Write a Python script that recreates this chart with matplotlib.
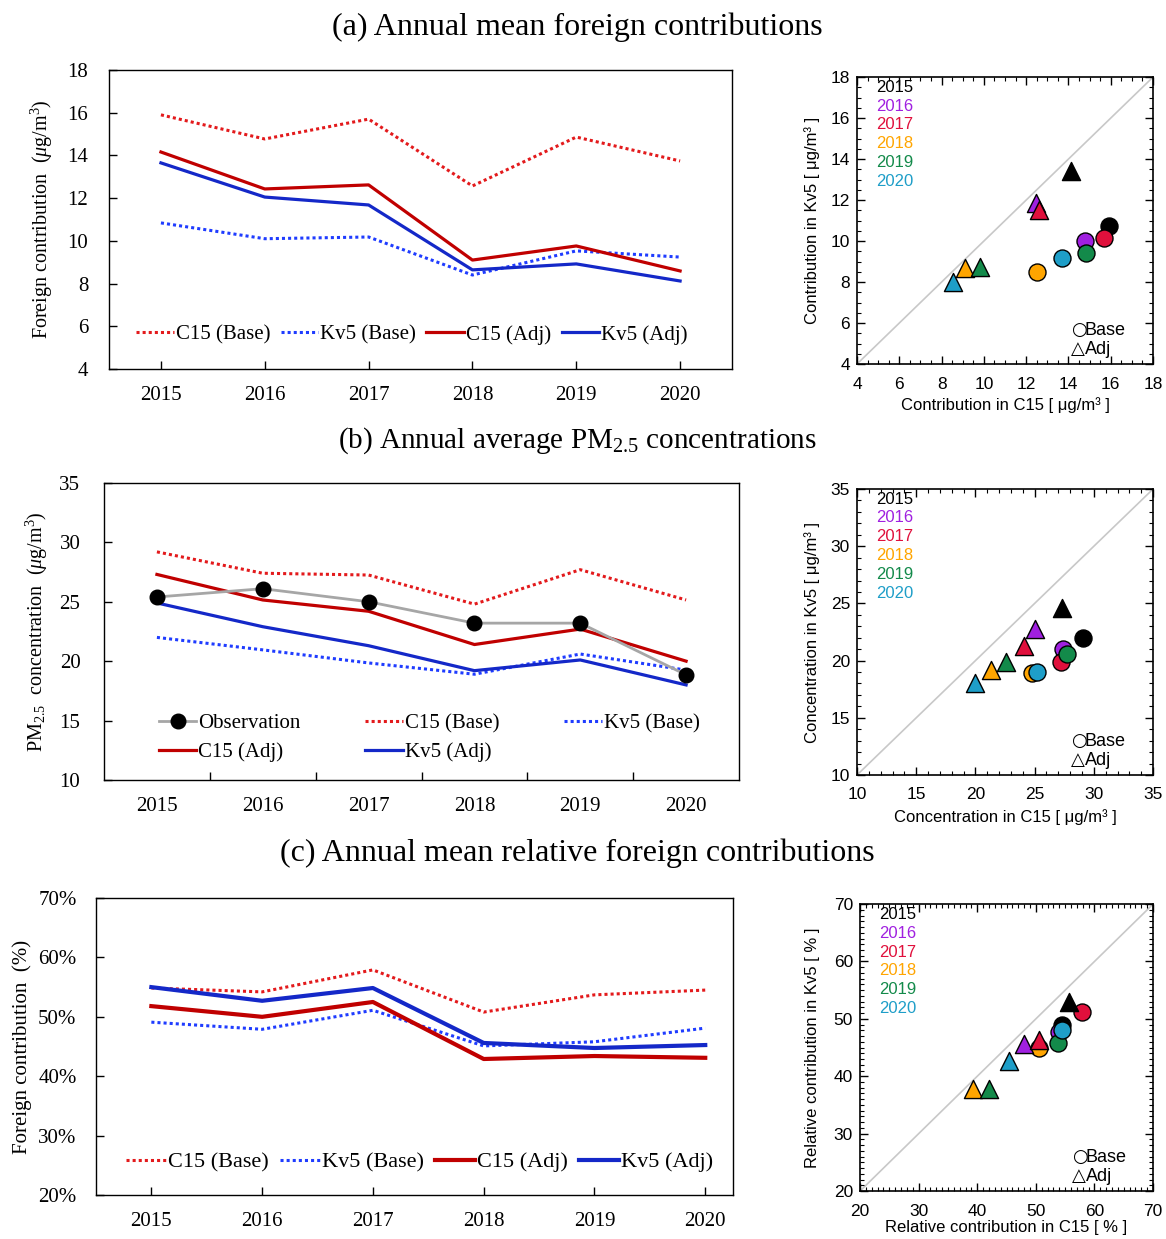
import matplotlib

matplotlib.use("Agg")
import matplotlib.pyplot as plt
from matplotlib.ticker import AutoMinorLocator, FuncFormatter, MultipleLocator

plt.rcParams["font.family"] = ["Liberation Serif", "DejaVu Serif"]
plt.rcParams["mathtext.fontset"] = "custom"
plt.rcParams["mathtext.rm"] = "Liberation Serif"
plt.rcParams["mathtext.it"] = "Liberation Serif:italic"
plt.rcParams["mathtext.bf"] = "Liberation Serif:bold"

SANS = ["Liberation Sans", "DejaVu Sans"]

years = [2015, 2016, 2017, 2018, 2019, 2020]

# (a) annual mean foreign contributions, ug/m3
a_c15_base = [15.9, 14.77, 15.7, 12.57, 14.86, 13.74]
a_kv5_base = [10.84, 10.1, 10.18, 8.4, 9.53, 9.24]
a_c15_adj = [14.16, 12.43, 12.62, 9.1, 9.76, 8.59]
a_kv5_adj = [13.65, 12.05, 11.68, 8.64, 8.92, 8.12]

# (b) annual average PM2.5, ug/m3
b_obs = [25.4, 26.1, 25.0, 23.2, 23.2, 18.85]
b_c15_base = [29.2, 27.4, 27.25, 24.8, 27.7, 25.15]
b_kv5_base = [22.0, 20.95, 19.85, 18.9, 20.6, 19.25]
b_c15_adj = [27.3, 25.15, 24.2, 21.4, 22.7, 20.0]
b_kv5_adj = [24.9, 22.9, 21.3, 19.2, 20.1, 18.0]

# (c) annual mean relative foreign contributions, %
c_c15_base = [54.85, 54.2, 57.9, 50.8, 53.7, 54.5]
c_kv5_base = [49.1, 47.9, 51.1, 45.1, 45.8, 48.1]
c_c15_adj = [51.8, 50.0, 52.5, 42.9, 43.4, 43.1]
c_kv5_adj = [55.0, 52.7, 54.85, 45.6, 44.75, 45.25]

# scatter panels: C15 (x) vs Kv5 (y)
sa_base_c15 = [15.9, 14.8, 15.7, 12.5, 14.85, 13.7]
sa_base_kv5 = [10.75, 10.0, 10.15, 8.5, 9.4, 9.15]
sa_adj_c15 = [14.1, 12.45, 12.6, 9.1, 9.8, 8.55]
sa_adj_kv5 = [13.4, 11.85, 11.5, 8.7, 8.75, 8.0]

sb_base_c15 = [29.1, 27.4, 27.2, 24.8, 27.7, 25.2]
sb_base_kv5 = [22.0, 21.0, 19.9, 18.9, 20.6, 19.0]
sb_adj_c15 = [27.3, 25.0, 24.1, 21.3, 22.6, 20.0]
sb_adj_kv5 = [24.6, 22.8, 21.3, 19.2, 19.9, 18.0]

sc_base_c15 = [54.5, 54.0, 57.8, 50.6, 53.7, 54.4]
sc_base_kv5 = [49.0, 47.8, 51.2, 45.0, 45.8, 48.0]
sc_adj_c15 = [55.6, 47.9, 50.6, 39.3, 42.0, 45.4]
sc_adj_kv5 = [53.0, 45.7, 46.3, 37.7, 37.7, 42.7]

year_colors = ["#000000", "#a020e0", "#e0103c", "#ffa500", "#138a4a", "#1e9ec8"]

RED_DOT = "#e31a1c"
BLUE_DOT = "#1f3cff"
RED = "#c00000"
BLUE = "#1428c8"
DOTS = (0, (1, 1))


def style_line_axes(ax, ylim, ystep, xlim, ypad, mid_ticks=False):
    ax.set_xlim(*xlim)
    ax.set_ylim(*ylim)
    ax.yaxis.set_major_locator(MultipleLocator(ystep))
    ax.tick_params(axis="y", direction="in", length=6, width=1, labelsize=15, pad=ypad)
    ax.tick_params(right=False, top=False)
    if mid_ticks:
        ax.set_xticks([y + 0.5 for y in years[:-1]], [])
        ax.set_xticks(years, [str(y) for y in years], minor=True)
        ax.tick_params(axis="x", which="major", direction="in", length=6, width=1)
        ax.tick_params(axis="x", which="minor", length=0, labelsize=15, pad=12)
    else:
        ax.set_xticks(years, [str(y) for y in years])
        ax.tick_params(axis="x", direction="in", length=6, width=1, labelsize=15, pad=12)
    for sp in ax.spines.values():
        sp.set_linewidth(1.0)


def draw_scatter(ax, bx, by, tx, ty, lim, major, n_minor, xlabel, ylabel, ylab_x, xlab_y):
    ax.plot(lim, lim, color="#c8c8c8", lw=1.2, zorder=1)
    for i in range(len(years)):
        ax.scatter(bx[i], by[i], s=150, marker="o", color=year_colors[i],
                   edgecolor="black", linewidth=1.0, zorder=3)
    for i in range(len(years)):
        ax.scatter(tx[i], ty[i], s=170, marker="^", color=year_colors[i],
                   edgecolor="black", linewidth=1.0, zorder=4)
    ax.set_xlim(*lim)
    ax.set_ylim(*lim)
    ax.xaxis.set_major_locator(MultipleLocator(major))
    ax.yaxis.set_major_locator(MultipleLocator(major))
    ax.xaxis.set_minor_locator(AutoMinorLocator(n_minor))
    ax.yaxis.set_minor_locator(AutoMinorLocator(n_minor))
    ax.tick_params(which="both", direction="in", top=True, right=True)
    ax.tick_params(which="major", length=6, width=1, labelsize=12.5)
    ax.tick_params(axis="x", which="major", pad=9)
    ax.tick_params(axis="y", which="major", pad=5)
    ax.tick_params(which="minor", length=3, width=0.8)
    for lab in ax.get_xticklabels() + ax.get_yticklabels():
        lab.set_family(SANS)
    for sp in ax.spines.values():
        sp.set_linewidth(1.2)
    ax.set_xlabel(xlabel, family=SANS, fontsize=12)
    ax.set_ylabel(ylabel, family=SANS, fontsize=12)
    ax.yaxis.set_label_coords(ylab_x, 0.5)
    ax.xaxis.set_label_coords(0.5, xlab_y)
    for i, yr in enumerate(years):
        ax.text(0.065, 0.965 - i * 0.066, str(yr), transform=ax.transAxes,
                color=year_colors[i], family=SANS, fontsize=12, ha="left", va="center")
    ax.text(0.722, 0.118, "○", transform=ax.transAxes, family=["DejaVu Sans"],
            fontsize=13, ha="left", va="center")
    ax.text(0.77, 0.118, "Base", transform=ax.transAxes, family=SANS,
            fontsize=13, ha="left", va="center")
    ax.text(0.722, 0.052, "△", transform=ax.transAxes, family=["DejaVu Sans"],
            fontsize=13, ha="left", va="center")
    ax.text(0.77, 0.052, "Adj", transform=ax.transAxes, family=SANS,
            fontsize=13, ha="left", va="center")


fig = plt.figure(figsize=(11.66, 12.39), dpi=100)

# ---------- (a) ----------
ax_a = fig.add_axes([0.0935, 0.7022, 0.5343, 0.2413])
ax_a.plot(years, a_c15_base, color=RED_DOT, ls=DOTS, lw=2.2, label="C15 (Base)")
ax_a.plot(years, a_kv5_base, color=BLUE_DOT, ls=DOTS, lw=2.2, label="Kv5 (Base)")
ax_a.plot(years, a_c15_adj, color=RED, lw=2.3, label="C15 (Adj)")
ax_a.plot(years, a_kv5_adj, color=BLUE, lw=2.3, label="Kv5 (Adj)")
style_line_axes(ax_a, (4, 18), 2, (2014.5, 2020.5), ypad=15)
ax_a.set_ylabel("Foreign contribution  ($\\mu$g/m$^3$)", fontsize=14.5)
ax_a.yaxis.set_label_coords(-0.087, 0.5)
ax_a.legend(loc="center", bbox_to_anchor=(0.486, 0.114), ncol=4, frameon=False,
            fontsize=15, handlelength=1.8, handletextpad=0.1, columnspacing=0.5)

sa = fig.add_axes([0.735, 0.7062, 0.2539, 0.2316])
draw_scatter(sa, sa_base_c15, sa_base_kv5, sa_adj_c15, sa_adj_kv5, (4, 18), 2, 4,
             "Contribution in C15 [ μg/m³ ]", "Contribution in Kv5 [ μg/m³ ]",
             -0.125, -0.115)

# ---------- (b) ----------
ax_b = fig.add_axes([0.0892, 0.3705, 0.5446, 0.2397])
h_obs, = ax_b.plot(years, b_obs, color="#a6a6a6", lw=2.0, marker="o", ms=10.5,
                   mfc="black", mec="black", label="Observation", zorder=5)
h_cb, = ax_b.plot(years, b_c15_base, color=RED_DOT, ls=DOTS, lw=2.2, label="C15 (Base)")
h_kb, = ax_b.plot(years, b_kv5_base, color=BLUE_DOT, ls=DOTS, lw=2.2, label="Kv5 (Base)")
h_ca, = ax_b.plot(years, b_c15_adj, color=RED, lw=2.3, label="C15 (Adj)")
h_ka, = ax_b.plot(years, b_kv5_adj, color=BLUE, lw=2.3, label="Kv5 (Adj)")
style_line_axes(ax_b, (10, 35), 5, (2014.5, 2020.5), ypad=17, mid_ticks=True)
ax_b.set_ylabel("PM$_{\\mathrm{2.5}}$  concentration  ($\\mu$g/m$^3$)", fontsize=14.5)
ax_b.yaxis.set_label_coords(-0.085, 0.5)
ax_b.legend([h_obs, h_ca, h_cb, h_ka, h_kb],
            ["Observation", "C15 (Adj)", "C15 (Base)", "Kv5 (Adj)", "Kv5 (Base)"],
            loc="center", bbox_to_anchor=(0.512, 0.141), ncol=3, frameon=False,
            fontsize=15, handlelength=1.8, handletextpad=0.1, columnspacing=3.1,
            labelspacing=0.45)

sb = fig.add_axes([0.735, 0.3745, 0.2539, 0.2308])
draw_scatter(sb, sb_base_c15, sb_base_kv5, sb_adj_c15, sb_adj_kv5, (10, 35), 5, 5,
             "Concentration in C15 [ μg/m³ ]", "Concentration in Kv5 [ μg/m³ ]",
             -0.125, -0.12)

# ---------- (c) ----------
ax_c = fig.add_axes([0.0823, 0.0355, 0.5463, 0.2397])
ax_c.plot(years, c_c15_base, color=RED_DOT, ls=DOTS, lw=2.2, label="C15 (Base)")
ax_c.plot(years, c_kv5_base, color=BLUE_DOT, ls=DOTS, lw=2.2, label="Kv5 (Base)")
ax_c.plot(years, c_c15_adj, color=RED, lw=3.0, label="C15 (Adj)")
ax_c.plot(years, c_kv5_adj, color=BLUE, lw=3.0, label="Kv5 (Adj)")
style_line_axes(ax_c, (20, 70), 10, (2014.5, 2020.25), ypad=14)
ax_c.yaxis.set_major_formatter(FuncFormatter(lambda v, _: f"{v:.0f}%"))
ax_c.set_ylabel("Foreign contribution  (%)", fontsize=15)
ax_c.yaxis.set_label_coords(-0.100, 0.5)
ax_c.legend(loc="center", bbox_to_anchor=(0.508, 0.111), ncol=4, frameon=False,
            fontsize=16, handlelength=1.8, handletextpad=0.1, columnspacing=0.5)

sc = fig.add_axes([0.7376, 0.0387, 0.2513, 0.2316])
draw_scatter(sc, sc_base_c15, sc_base_kv5, sc_adj_c15, sc_adj_kv5, (20, 70), 10, 10,
             "Relative contribution in C15 [ % ]", "Relative contribution in Kv5 [ % ]",
             -0.137, -0.1)

# panel titles
fig.text(0.495, 0.978, "(a) Annual mean foreign contributions", ha="center", va="center",
         fontsize=23)
fig.text(0.495, 0.644, "(b) Annual average PM$_{\\mathrm{2.5}}$ concentrations",
         ha="center", va="center", fontsize=21)
fig.text(0.495, 0.3115, "(c) Annual mean relative foreign contributions", ha="center",
         va="center", fontsize=23)

fig.savefig("out.png", dpi=100)
